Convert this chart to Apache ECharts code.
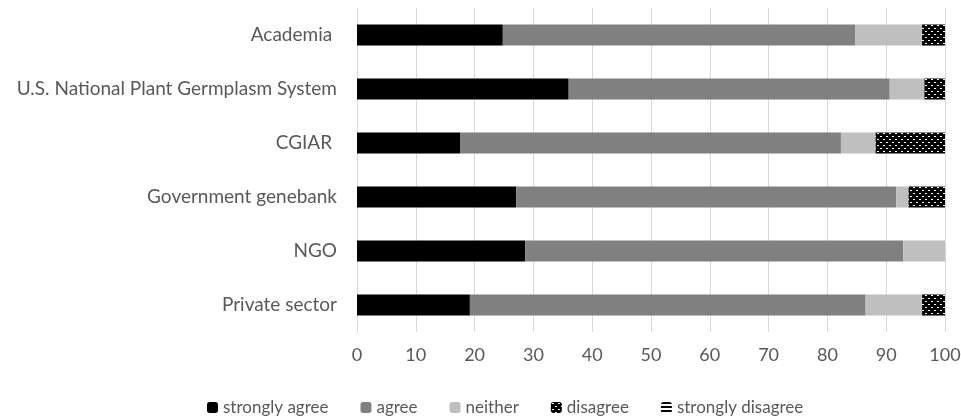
<!DOCTYPE html>
<html>
<head>
<meta charset="utf-8">
<script src="https://cdn.jsdelivr.net/npm/echarts@6/dist/echarts.min.js"></script>
<style>
  html, body { margin: 0; padding: 0; background: #fff; }
  #main { width: 961px; height: 416px; }
</style>
</head>
<body>
<div id="main"></div>
<script>
// categories listed bottom to top (category axis draws first item at the bottom)
var categories = ['Private sector', 'NGO', 'Government genebank', 'CGIAR ', 'U.S. National Plant Germplasm System', 'Academia '];

var stronglyAgree    = [19.2, 28.6, 27.1, 17.6, 36.0, 24.8];
var agree            = [67.3, 64.3, 64.6, 64.7, 54.6, 59.9];
var neither          = [9.6, 7.1, 2.1, 5.9, 5.9, 11.4];
var disagree         = [3.9, 0, 6.2, 11.8, 3.5, 3.9];
var stronglyDisagree = [0, 0, 0, 0, 0, 0];

var xTicks = [0, 10, 20, 30, 40, 50, 60, 70, 80, 90, 100];

// checkered black/white fill used for "disagree"
function checkPattern() {
  var c = document.createElement('canvas');
  c.width = 6; c.height = 6;
  var ctx = c.getContext('2d');
  ctx.fillStyle = '#000';
  ctx.fillRect(0, 0, 6, 6);
  ctx.fillStyle = '#fff';
  ctx.fillRect(1, 1, 2, 1);
  ctx.fillRect(4, 4, 2, 1);
  return c;
}

// horizontal stripes for "strongly disagree"
function stripePattern() {
  var c = document.createElement('canvas');
  c.width = 4; c.height = 4;
  var ctx = c.getContext('2d');
  ctx.fillStyle = '#fff';
  ctx.fillRect(0, 0, 4, 4);
  ctx.fillStyle = '#000';
  ctx.fillRect(0, 0, 4, 2);
  return c;
}

var font = 'Lato, "Open Sans", sans-serif';
var myChart = echarts.init(document.getElementById('main'));

function bar(name, data, color) {
  return {
    name: name,
    type: 'bar',
    stack: 'all',
    barWidth: '39%',
    data: data,
    itemStyle: { color: color },
    emphasis: { disabled: true }
  };
}

var option = {
  animation: false,
  textStyle: { fontFamily: font },
  grid: { left: 357, right: 16, top: 8, bottom: 84, containLabel: false, outerBoundsMode: 'none' },
  xAxis: {
    type: 'value',
    min: 0,
    max: 100,
    interval: 10,
    axisLine: { show: false },
    axisTick: { show: false },
    splitLine: { lineStyle: { color: '#d9d9d9', width: 1 } },
    axisLabel: {
      color: '#595959',
      fontSize: 18,
      margin: 14,
      fontFamily: font,
      formatter: function (v) { return xTicks.indexOf(v) >= 0 ? String(v) : ''; }
    }
  },
  yAxis: {
    type: 'category',
    data: categories,
    axisLine: { show: true, lineStyle: { color: '#d9d9d9' } },
    axisTick: { show: false },
    axisLabel: { color: '#595959', fontSize: 19, margin: 20, fontFamily: font }
  },
  legend: {
    top: 394,
    left: 202,
    itemWidth: 11,
    itemHeight: 11,
    itemGap: 32,
    itemStyle: { borderWidth: 0 },
    textStyle: { color: '#595959', fontSize: 17, fontFamily: font },
    data: ['strongly agree', 'agree', 'neither', 'disagree', 'strongly disagree']
  },
  series: [
    bar('strongly agree', stronglyAgree, '#000000'),
    bar('agree', agree, '#808080'),
    bar('neither', neither, '#bfbfbf'),
    bar('disagree', disagree, { image: checkPattern(), repeat: 'repeat' }),
    bar('strongly disagree', stronglyDisagree, { image: stripePattern(), repeat: 'repeat' })
  ]
};

myChart.setOption(option);
</script>
</body>
</html>
